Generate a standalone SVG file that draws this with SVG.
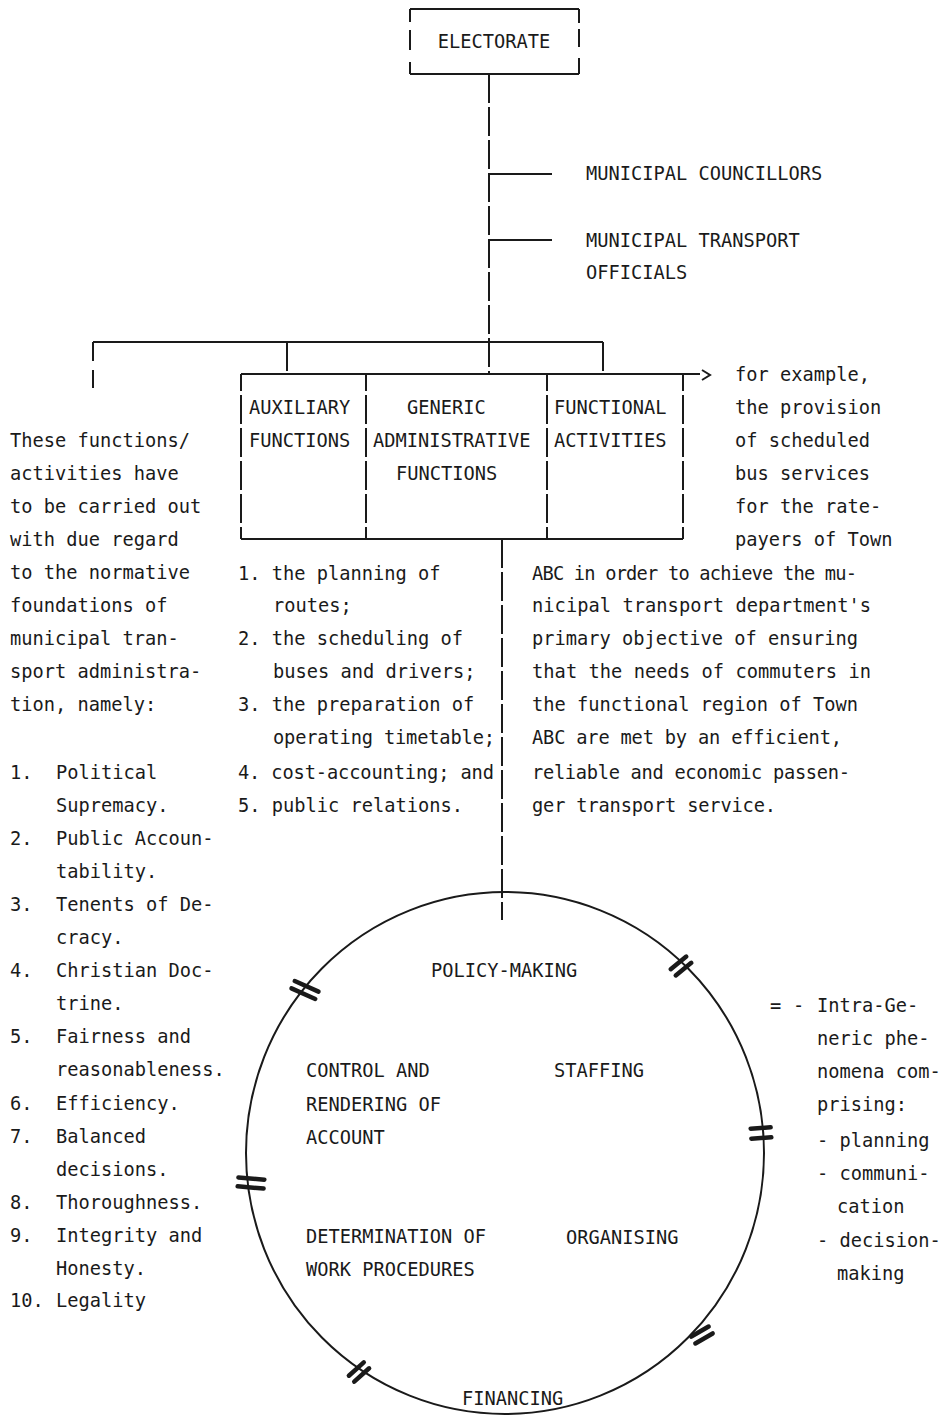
<svg xmlns="http://www.w3.org/2000/svg" width="942" height="1420" viewBox="0 0 942 1420">
  <style>
    .t { font-family: "DejaVu Sans Mono", "Liberation Mono", monospace; font-size: 18.7px; fill: #1a1a1a; }
    .ln { stroke: #1a1a1a; stroke-width: 2; fill: none; }
    .dash { stroke-dasharray: 29 4; }
    .mk line { stroke: #1a1a1a; stroke-width: 4.5; stroke-linecap: round; }
  </style>
  <rect width="942" height="1420" fill="#ffffff"/>

  <!-- top node -->
  <g id="electorate">
    <line class="ln" x1="410" y1="9" x2="579" y2="9"/>
    <line class="ln" x1="410" y1="74" x2="579" y2="74"/>
    <path class="ln" d="M410 9V22M410 30V50M410 62V74M579 9V23M579 29V47M579 58V74"/>
    <text class="t" x="494" y="48" text-anchor="middle">ELECTORATE</text>
  </g>

  <g id="councillors">
    <text class="t" x="586" y="180">MUNICIPAL COUNCILLORS</text>
  </g>
  <g id="officials">
    <text class="t" x="586" y="247">MUNICIPAL TRANSPORT</text>
    <text class="t" x="586" y="279">OFFICIALS</text>
  </g>

  <!-- connectors -->
  <g id="connectors">
    <line class="ln dash" x1="489" y1="74" x2="489" y2="374"/>
    <line class="ln" x1="489" y1="174" x2="552" y2="174"/>
    <line class="ln" x1="489" y1="240" x2="552" y2="240"/>
    <line class="ln" x1="93" y1="342" x2="603" y2="342"/>
    <path class="ln" d="M93 342V361M93 370V388"/>
    <line class="ln dash" x1="287" y1="342" x2="287" y2="374"/>
    <line class="ln dash" x1="603" y1="342" x2="603" y2="374"/>
    <line class="ln" x1="683" y1="374" x2="700" y2="374"/>
    <polyline class="ln" points="702,370 710,375 702,380"/>
    <line class="ln dash" x1="502" y1="539" x2="502" y2="920"/>
  </g>

  <!-- functions box -->
  <g id="functions-box">
    <line class="ln" x1="241" y1="374" x2="683" y2="374"/>
    <line class="ln" x1="241" y1="539" x2="683" y2="539"/>
    <line class="ln dash" x1="241" y1="374" x2="241" y2="539" stroke-dashoffset="12"/>
    <line class="ln dash" x1="366" y1="374" x2="366" y2="539" stroke-dashoffset="12"/>
    <line class="ln dash" x1="547" y1="374" x2="547" y2="539" stroke-dashoffset="12"/>
    <line class="ln dash" x1="683" y1="374" x2="683" y2="539" stroke-dashoffset="12"/>
  </g>
  <g id="auxiliary">
    <text class="t" x="249" y="414">AUXILIARY</text>
    <text class="t" x="249" y="447">FUNCTIONS</text>
  </g>
  <g id="generic">
    <text class="t" x="407" y="414">GENERIC</text>
    <text class="t" x="373" y="447">ADMINISTRATIVE</text>
    <text class="t" x="396" y="480">FUNCTIONS</text>
  </g>
  <g id="functional">
    <text class="t" x="554" y="414">FUNCTIONAL</text>
    <text class="t" x="554" y="447">ACTIVITIES</text>
  </g>

  <!-- example note -->
  <g id="example">
    <text class="t" x="735" y="381">for example,</text>
    <text class="t" x="735" y="414">the provision</text>
    <text class="t" x="735" y="447">of scheduled</text>
    <text class="t" x="735" y="480">bus services</text>
    <text class="t" x="735" y="513">for the rate-</text>
    <text class="t" x="735" y="546">payers of Town</text>
    <text class="t" x="532" y="580" textLength="325">ABC in order to achieve the mu-</text>
    <text class="t" x="532" y="612" textLength="339">nicipal transport department's</text>
    <text class="t" x="532" y="645" textLength="326">primary objective of ensuring</text>
    <text class="t" x="532" y="678" textLength="339">that the needs of commuters in</text>
    <text class="t" x="532" y="711" textLength="326">the functional region of Town</text>
    <text class="t" x="532" y="744" textLength="310">ABC are met by an efficient,</text>
    <text class="t" x="532" y="779" textLength="318">reliable and economic passen-</text>
    <text class="t" x="532" y="812" textLength="244">ger transport service.</text>
  </g>

  <!-- auxiliary list -->
  <g id="aux-list">
    <text class="t" x="238" y="580">1. the planning of</text>
    <text class="t" x="273" y="612">routes;</text>
    <text class="t" x="238" y="645">2. the scheduling of</text>
    <text class="t" x="273" y="678">buses and drivers;</text>
    <text class="t" x="238" y="711">3. the preparation of</text>
    <text class="t" x="273" y="744" textLength="222">operating timetable;</text>
    <text class="t" x="238" y="779" textLength="256">4. cost-accounting; and</text>
    <text class="t" x="238" y="812">5. public relations.</text>
  </g>

  <!-- normative foundations -->
  <g id="normative">
    <text class="t" x="10" y="447">These functions/</text>
    <text class="t" x="10" y="480">activities have</text>
    <text class="t" x="10" y="513">to be carried out</text>
    <text class="t" x="10" y="546">with due regard</text>
    <text class="t" x="10" y="579">to the normative</text>
    <text class="t" x="10" y="612">foundations of</text>
    <text class="t" x="10" y="645">municipal tran-</text>
    <text class="t" x="10" y="678">sport administra-</text>
    <text class="t" x="10" y="711">tion, namely:</text>

    <text class="t" x="10" y="779">1.</text><text class="t" x="56" y="779">Political</text>
    <text class="t" x="56" y="812">Supremacy.</text>
    <text class="t" x="10" y="845">2.</text><text class="t" x="56" y="845">Public Accoun-</text>
    <text class="t" x="56" y="878">tability.</text>
    <text class="t" x="10" y="911">3.</text><text class="t" x="56" y="911">Tenents of De-</text>
    <text class="t" x="56" y="944">cracy.</text>
    <text class="t" x="10" y="977">4.</text><text class="t" x="56" y="977">Christian Doc-</text>
    <text class="t" x="56" y="1010">trine.</text>
    <text class="t" x="10" y="1043">5.</text><text class="t" x="56" y="1043">Fairness and</text>
    <text class="t" x="56" y="1076">reasonableness.</text>
    <text class="t" x="10" y="1110">6.</text><text class="t" x="56" y="1110">Efficiency.</text>
    <text class="t" x="10" y="1143">7.</text><text class="t" x="56" y="1143">Balanced</text>
    <text class="t" x="56" y="1176">decisions.</text>
    <text class="t" x="10" y="1209">8.</text><text class="t" x="56" y="1209">Thoroughness.</text>
    <text class="t" x="10" y="1242">9.</text><text class="t" x="56" y="1242">Integrity and</text>
    <text class="t" x="56" y="1275">Honesty.</text>
    <text class="t" x="10" y="1307">10.</text><text class="t" x="56" y="1307">Legality</text>
  </g>

  <!-- generic administrative cycle -->
  <g id="cycle">
    <ellipse class="ln" cx="505" cy="1153" rx="259" ry="261"/>
    <g class="mk" transform="translate(305,990) rotate(24)"><line x1="-13" y1="-4" x2="13" y2="-4"/><line x1="-13" y1="4" x2="13" y2="4"/></g>
    <g class="mk" transform="translate(681,966) rotate(-39)"><line x1="-10" y1="-4" x2="10" y2="-4"/><line x1="-10" y1="4" x2="10" y2="4"/></g>
    <g class="mk" transform="translate(761,1133) rotate(-4)"><line x1="-10" y1="-5" x2="10" y2="-5"/><line x1="-10" y1="5" x2="10" y2="5"/></g>
    <g class="mk" transform="translate(251,1183) rotate(5)"><line x1="-13" y1="-4.5" x2="13" y2="-4.5"/><line x1="-13" y1="4.5" x2="13" y2="4.5"/></g>
    <g class="mk" transform="translate(702,1335) rotate(-30)"><line x1="-10" y1="-4" x2="10" y2="-4"/><line x1="-10" y1="4" x2="10" y2="4"/></g>
    <g class="mk" transform="translate(359,1372) rotate(-42)"><line x1="-10" y1="-4" x2="10" y2="-4"/><line x1="-10" y1="4" x2="10" y2="4"/></g>
  </g>
  <g id="policy-making"><text class="t" x="431" y="977">POLICY-MAKING</text></g>
  <g id="control"><text class="t" x="306" y="1077">CONTROL AND</text><text class="t" x="306" y="1111">RENDERING OF</text><text class="t" x="306" y="1144">ACCOUNT</text></g>
  <g id="staffing"><text class="t" x="554" y="1077">STAFFING</text></g>
  <g id="work-procedures"><text class="t" x="306" y="1243">DETERMINATION OF</text><text class="t" x="306" y="1276">WORK PROCEDURES</text></g>
  <g id="organising"><text class="t" x="566" y="1244">ORGANISING</text></g>
  <g id="financing"><text class="t" x="462" y="1405">FINANCING</text></g>

  <!-- legend -->
  <g id="legend">
    <text class="t" x="770" y="1012">=</text>
    <text class="t" x="793" y="1012">-</text>
    <text class="t" x="817" y="1012">Intra-Ge-</text>
    <text class="t" x="817" y="1045">neric phe-</text>
    <text class="t" x="817" y="1078">nomena com-</text>
    <text class="t" x="817" y="1111">prising:</text>
    <text class="t" x="817" y="1147">- planning</text>
    <text class="t" x="817" y="1180">- communi-</text>
    <text class="t" x="837" y="1213">cation</text>
    <text class="t" x="817" y="1247">- decision-</text>
    <text class="t" x="837" y="1280">making</text>
  </g>
</svg>
